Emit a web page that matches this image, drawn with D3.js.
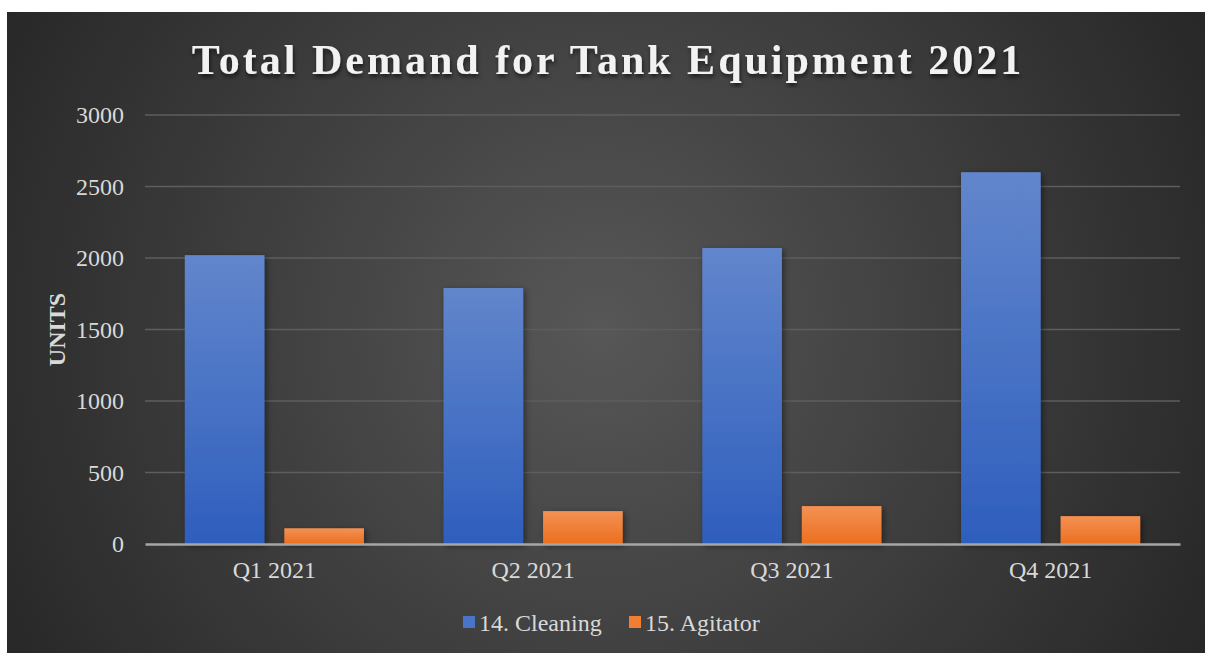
<!DOCTYPE html>
<html>
<head>
<meta charset="utf-8">
<script src="https://cdn.jsdelivr.net/npm/d3@7"></script>
<style>
  body { margin: 0; background: #fff; }
  svg { display: block; }
</style>
</head>
<body>
<svg id="drawing_region"></svg>
<script>
const categories = ["Q1 2021", "Q2 2021", "Q3 2021", "Q4 2021"];
const seriesNames = ["14. Cleaning", "15. Agitator"];
const cleaning = [2020, 1790, 2070, 2600];
const agitator = [110, 230, 265, 195];
const yTicks = [0, 500, 1000, 1500, 2000, 2500, 3000];

const W = 1205, H = 653;
const margin = {top: 115, right: 25, bottom: 109, left: 145};
const innerW = W - margin.left - margin.right;
const innerH = H - margin.top - margin.bottom;
const font = "'Liberation Serif', 'Times New Roman', serif";

const svg = d3.select('#drawing_region')
    .attr('width', W)
    .attr('height', H);

const defs = svg.append('defs');

const bg = defs.append('radialGradient')
    .attr('id', 'bg')
    .attr('gradientUnits', 'userSpaceOnUse')
    .attr('cx', 600).attr('cy', 330).attr('r', 700);
bg.append('stop').attr('offset', '0%').attr('stop-color', '#575757');
bg.append('stop').attr('offset', '100%').attr('stop-color', '#262626');

const gradBlue = defs.append('linearGradient').attr('id', 'gBlue')
    .attr('x1', 0).attr('y1', 0).attr('x2', 0).attr('y2', 1);
gradBlue.append('stop').attr('offset', '0%').attr('stop-color', '#6286cc');
gradBlue.append('stop').attr('offset', '100%').attr('stop-color', '#2e5ebd');

const gradOrange = defs.append('linearGradient').attr('id', 'gOrange')
    .attr('x1', 0).attr('y1', 0).attr('x2', 0).attr('y2', 1);
gradOrange.append('stop').attr('offset', '0%').attr('stop-color', '#f39153');
gradOrange.append('stop').attr('offset', '100%').attr('stop-color', '#ec6f1e');

const shadow = defs.append('filter').attr('id', 'shadow')
    .attr('x', '-20%').attr('y', '-20%').attr('width', '140%').attr('height', '140%');
shadow.append('feDropShadow')
    .attr('dx', 2).attr('dy', 2).attr('stdDeviation', 3)
    .attr('flood-color', '#000').attr('flood-opacity', 0.45);

const tshadow = defs.append('filter').attr('id', 'tshadow');
tshadow.append('feDropShadow')
    .attr('dx', 1).attr('dy', 3).attr('stdDeviation', 2)
    .attr('flood-color', '#000').attr('flood-opacity', 0.6);

// background panel
svg.append('rect')
    .attr('x', 7).attr('y', 12)
    .attr('width', W - 7).attr('height', H - 12)
    .attr('fill', 'url(#bg)');

const chart = svg.append('g')
    .attr('transform', `translate(${margin.left}, ${margin.top})`);

const xscale = d3.scaleBand()
    .domain(categories)
    .range([0, innerW]);

const xinner = d3.scaleBand()
    .domain(seriesNames)
    .range([0, xscale.bandwidth()])
    .paddingInner(0.2)
    .paddingOuter(0.4);

const yscale = d3.scaleLinear()
    .domain([0, 3000])
    .range([innerH, 0]);

// gridlines
chart.append('g')
    .selectAll('line')
    .data(yTicks.filter(d => d > 0))
    .join('line')
    .attr('x1', 0).attr('x2', innerW)
    .attr('y1', d => yscale(d)).attr('y2', d => yscale(d))
    .attr('stroke', '#5e5e5e')
    .attr('stroke-width', 1.5);

// y axis labels
const yaxis = d3.axisLeft(yscale)
    .tickValues(yTicks)
    .tickFormat(d3.format('d'))
    .tickSize(0)
    .tickPadding(21);
const yaxis_group = chart.append('g').call(yaxis);
yaxis_group.select('.domain').remove();
yaxis_group.selectAll('text')
    .attr('fill', '#d9d9d9')
    .attr('font-family', font)
    .attr('font-size', '24px');

// bars
const rows = categories.map((c, i) => ({cat: c, values: [cleaning[i], agitator[i]]}));
const fills = ['url(#gBlue)', 'url(#gOrange)'];

chart.append('g')
    .selectAll('g')
    .data(rows)
    .join('g')
    .attr('transform', d => `translate(${xscale(d.cat)}, 0)`)
    .selectAll('rect')
    .data(d => d.values.map((v, j) => ({name: seriesNames[j], value: v, j: j})))
    .join('rect')
    .attr('x', d => xinner(d.name))
    .attr('width', xinner.bandwidth())
    .attr('y', d => yscale(d.value))
    .attr('height', d => innerH - yscale(d.value))
    .attr('fill', d => fills[d.j])
    .attr('filter', 'url(#shadow)');

// x axis
const xaxis = d3.axisBottom(xscale)
    .tickSize(0)
    .tickPadding(17);
const xaxis_group = chart.append('g')
    .attr('transform', `translate(0, ${innerH})`)
    .call(xaxis);
xaxis_group.select('.domain')
    .attr('stroke', '#a6a6a6')
    .attr('stroke-width', 2.5);
xaxis_group.selectAll('text')
    .attr('fill', '#d9d9d9')
    .attr('font-family', font)
    .attr('font-size', '24px');

// y axis title
svg.append('text')
    .attr('transform', `translate(65, ${margin.top + innerH / 2}) rotate(-90)`)
    .attr('text-anchor', 'middle')
    .attr('fill', '#d9d9d9')
    .attr('font-family', font)
    .attr('font-weight', 'bold')
    .attr('font-size', '24px')
    .text('UNITS');

// title
svg.append('text')
    .attr('x', 608)
    .attr('y', 74)
    .attr('text-anchor', 'middle')
    .attr('fill', '#f2f2f2')
    .attr('font-family', font)
    .attr('font-weight', 'bold')
    .attr('font-size', '42px')
    .attr('letter-spacing', '3px')
    .attr('filter', 'url(#tshadow)')
    .text('Total Demand for Tank Equipment 2021');

// legend
const legendColors = ['#4a74c8', '#f07f33'];
const legendX = [463, 629];
const legend = svg.append('g')
    .selectAll('g')
    .data(seriesNames)
    .join('g')
    .attr('transform', (d, i) => `translate(${legendX[i]}, 623)`);
legend.append('rect')
    .attr('x', 0).attr('y', -7)
    .attr('width', 12).attr('height', 12)
    .attr('fill', (d, i) => legendColors[i]);
legend.append('text')
    .attr('x', 16).attr('y', 8)
    .attr('fill', '#d9d9d9')
    .attr('font-family', font)
    .attr('font-size', '24px')
    .text(d => d);
</script>
</body>
</html>
